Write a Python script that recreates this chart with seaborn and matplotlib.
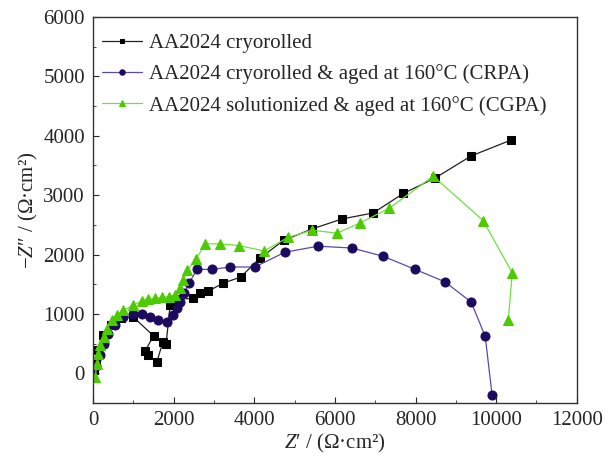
import numpy as np
import pandas as pd
import matplotlib
matplotlib.use("Agg")
import matplotlib.pyplot as plt
import seaborn as sns
from matplotlib.ticker import MultipleLocator

# ── data (Z' , -Z'' in Ω·cm²) ──────────────────────────────────
cr_x = [30, 60, 120, 250, 450, 700, 990, 1500, 1290, 1370, 1580, 1730, 1810,
        1910, 2050, 2480, 2650, 2850, 3230, 3660, 4140, 4730, 5430, 6180,
        6950, 7700, 8490, 9380, 10380]
cr_y = [50, 200, 400, 640, 820, 930, 950, 630, 380, 300, 190, 530, 500,
        1150, 1250, 1260, 1350, 1380, 1520, 1620, 1940, 2240, 2430, 2600,
        2700, 3030, 3290, 3660, 3930]

crpa_x = [60, 170, 260, 370, 550, 740, 990, 1220, 1410, 1610, 1840, 1990,
          2080, 2160, 2260, 2380, 2580, 2950, 3400, 4010, 4760, 5580, 6420,
          7200, 7990, 8730, 9380, 9730, 9900]
crpa_y = [120, 300, 500, 670, 810, 950, 1000, 1000, 950, 890, 860, 980,
          1100, 1200, 1350, 1520, 1750, 1750, 1790, 1790, 2040, 2140, 2110,
          1970, 1750, 1540, 1200, 620, -370]

cgpa_x = [50, 90, 130, 170, 260, 340, 460, 590, 750, 1000, 1210, 1370, 1540,
          1700, 1870, 2030, 2160, 2240, 2340, 2560, 2780, 3150, 3630, 4240,
          4840, 5430, 6050, 6620, 7350, 8440, 9680, 10400, 10300]
cgpa_y = [-60, 160, 330, 470, 610, 750, 890, 980, 1060, 1150, 1220, 1250,
          1260, 1280, 1290, 1320, 1430, 1570, 1740, 1930, 2180, 2180, 2150,
          2060, 2290, 2410, 2360, 2530, 2780, 3320, 2570, 1690, 890]

labels = ["AA2024 cryorolled",
          "AA2024 cryorolled & aged at 160°C (CRPA)",
          "AA2024 solutionized & aged at 160°C (CGPA)"]

sns.set_style("ticks")
plt.rcParams["font.family"] = ["Liberation Serif", "DejaVu Serif"]
plt.rcParams["mathtext.fontset"] = "custom"
plt.rcParams["mathtext.it"] = "Liberation Serif:italic"
plt.rcParams["mathtext.rm"] = "Liberation Serif"

fig = plt.figure(figsize=(6.09, 4.59), dpi=100)
ax = fig.add_axes([0.153, 0.122, 0.794, 0.841])

series = [
    (cr_x, cr_y, labels[0], "s", "black", "#202020", 6),
    (crpa_x, crpa_y, labels[1], "o", "#1c0a5e", "#5a4aa6", 6.5),
    (cgpa_x, cgpa_y, labels[2], "^", "#4ccc00", "#70e040", 7.5),
]
for xs, ys, lab, mk, mc, lc, ms in series:
    df = pd.DataFrame({"x": xs, "y": ys})
    sns.lineplot(data=df, x="x", y="y", sort=False, estimator=None,
                 ax=ax, color=lc, linewidth=0.9, marker=mk, markersize=ms,
                 markerfacecolor=mc, markeredgecolor=mc, label=lab)

ax.set_xlim(0, 12000)
ax.set_ylim(-500, 6000)
ax.xaxis.set_major_locator(MultipleLocator(2000))
ax.xaxis.set_minor_locator(MultipleLocator(1000))
ax.yaxis.set_major_locator(MultipleLocator(1000))
ax.yaxis.set_minor_locator(MultipleLocator(500))
ax.tick_params(which="both", direction="in", labelsize=15, pad=6)
ax.tick_params(which="major", length=4)
ax.tick_params(which="minor", length=2.5)
for s in ax.spines.values():
    s.set_linewidth(1.0)
    s.set_color("#333333")

ax.set_xlabel(r"$Z$′ / (Ω·cm²)", fontsize=15, labelpad=1)
ax.set_ylabel(r"−$Z$″ / (Ω·cm²)", fontsize=15, labelpad=2)

leg = ax.legend(loc="upper left", bbox_to_anchor=(-0.005, 0.987),
                frameon=False, fontsize=15,
                handlelength=1.9, handletextpad=0.35, labelspacing=0.55,
                borderaxespad=0.25, borderpad=0.3, markerscale=0.6)

fig.savefig("out.png", dpi=100)
